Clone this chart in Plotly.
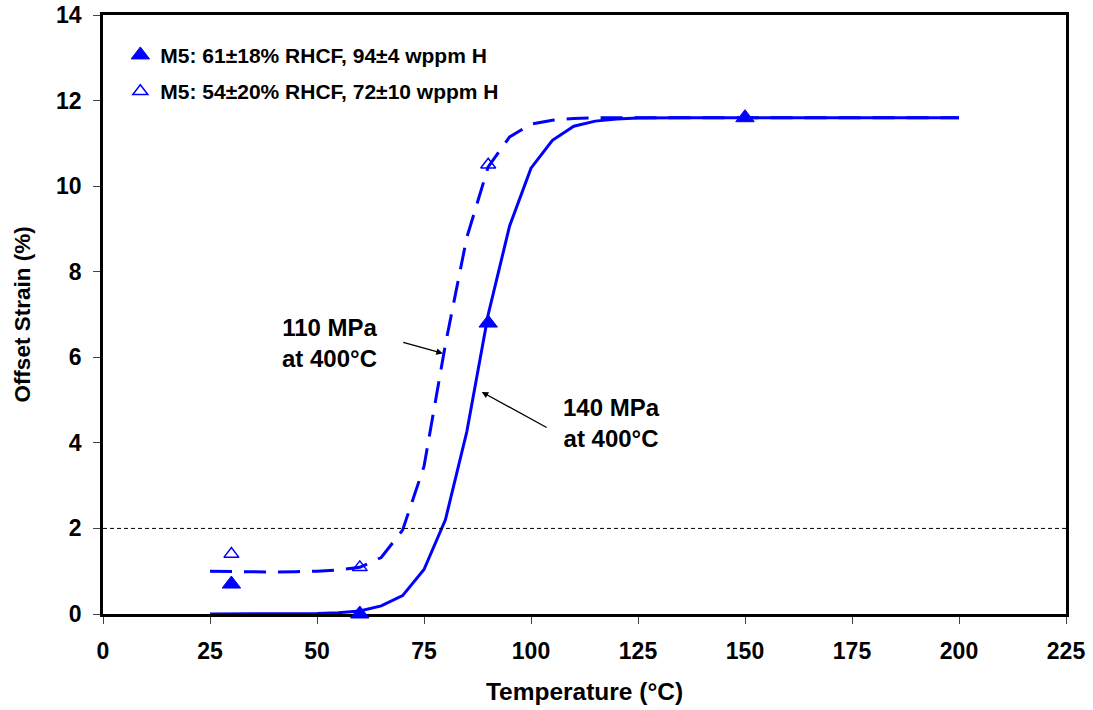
import plotly.graph_objects as go

# ---- data ----
fit_temps = [25, 30, 35, 40, 45, 50, 55, 60, 65, 70, 75, 80, 85, 90, 95, 100, 105, 110,
             115, 120, 125, 130, 135, 140, 145, 150, 155, 160, 165, 170, 175, 180, 185,
             190, 195, 200]
fit_140 = [0.0, 0.0, 0.0, 0.0, 0.0, 0.01, 0.03, 0.07, 0.19, 0.43, 1.04, 2.2, 4.26, 7.0,
           9.07, 10.42, 11.07, 11.4, 11.52, 11.57, 11.59, 11.6, 11.6, 11.6, 11.6, 11.6,
           11.6, 11.6, 11.6, 11.6, 11.6, 11.6, 11.6, 11.6, 11.6, 11.6]
fit_110 = [1.0, 0.99, 0.98, 0.98, 0.99, 1.0, 1.03, 1.09, 1.32, 1.96, 3.45, 6.3, 8.8,
           10.45, 11.15, 11.45, 11.54, 11.58, 11.6, 11.6, 11.6, 11.6, 11.6, 11.6, 11.6,
           11.6, 11.6, 11.6, 11.6, 11.6, 11.6, 11.6, 11.6, 11.6, 11.6, 11.6]

s1_temps = [30, 60, 90, 150]
s1_strain = [0.7, 0.0, 6.8, 11.6]
s1_name = "M5: 61±18% RHCF, 94±4 wppm H"

s2_temps = [30, 60, 90]
s2_strain = [1.4, 1.09, 10.5]
s2_name = "M5: 54±20% RHCF, 72±10 wppm H"

x_ticks = [0, 25, 50, 75, 100, 125, 150, 175, 200, 225]
y_ticks = [0, 2, 4, 6, 8, 10, 12, 14]
threshold = 2

FONT = "Liberation Sans, Arial, sans-serif"
BLUE = "#0000FF"

fig = go.Figure()

fig.add_trace(go.Scatter(x=fit_temps, y=fit_110, mode="lines", showlegend=False,
                         line=dict(color=BLUE, width=3, dash="22px,12px"),
                         hoverinfo="skip"))
fig.add_trace(go.Scatter(x=fit_temps, y=fit_140, mode="lines", showlegend=False,
                         line=dict(color=BLUE, width=3), hoverinfo="skip"))

fig.add_trace(go.Scatter(x=s1_temps, y=s1_strain, mode="markers", name=s1_name,
                         legendgroup="a", cliponaxis=False,
                         marker=dict(symbol="triangle-up", size=16, color=BLUE,
                                     line=dict(color=BLUE, width=1))))
fig.add_trace(go.Scatter(x=s2_temps, y=s2_strain, mode="markers", name=s2_name,
                         legendgroup="b", cliponaxis=False,
                         marker=dict(symbol="triangle-up-open", size=13, color=BLUE,
                                     line=dict(color=BLUE, width=1.5))))

fig.add_shape(type="line", xref="paper", yref="y", x0=0, x1=1, y0=threshold, y1=threshold,
              line=dict(color="black", width=1, dash="4px,3px"))

ann_font = dict(family=FONT, size=24, color="black", weight="bold")
# labels
for txt, x, y in [("110 MPa<br>at 400°C", 53.0, 6.33),
                  ("140 MPa<br>at 400°C", 118.7, 4.47)]:
    fig.add_annotation(x=x, y=y, text=txt, showarrow=False, font=ann_font,
                       xanchor="center", yanchor="middle", align="center")
# arrows
for hx, hy, tx, ty in [(79.4, 6.09, 69.8, 6.36), (88.5, 5.19, 104.0, 4.34)]:
    fig.add_annotation(x=hx, y=hy, ax=tx, ay=ty, axref="x", ayref="y", xref="x", yref="y",
                       text="", showarrow=True, arrowhead=2, arrowsize=1, arrowwidth=1.3,
                       arrowcolor="black")

axis_common = dict(showline=True, linecolor="black", linewidth=2.5, mirror=True,
                   ticks="outside", ticklen=7, tickwidth=1, tickcolor="#444",
                   showgrid=False, zeroline=False, automargin=False,
                   layer="below traces",
                   tickfont=dict(family=FONT, size=23, color="black", weight="bold"))

fig.update_xaxes(range=[0, 225], tickvals=x_ticks, ticklabelstandoff=8,
                 title=dict(text="Temperature (°C)", standoff=20,
                            font=dict(family=FONT, size=24.5, color="black", weight="bold")),
                 **axis_common)
fig.update_yaxes(range=[0, 14], tickvals=y_ticks, ticklabelstandoff=7,
                 title=dict(text="Offset Strain (%)", standoff=20,
                            font=dict(family=FONT, size=22.5, color="black", weight="bold")),
                 **axis_common)

fig.update_layout(
    width=1093, height=710,
    margin=dict(l=103, r=27, t=15, b=96),
    plot_bgcolor="white", paper_bgcolor="white",
    legend=dict(x=0.018, y=0.967, xanchor="left", yanchor="top",
                traceorder="grouped", tracegroupgap=6,
                bgcolor="rgba(0,0,0,0)",
                font=dict(family=FONT, size=21, color="black", weight="bold")),
)

fig.write_html("out.html")
